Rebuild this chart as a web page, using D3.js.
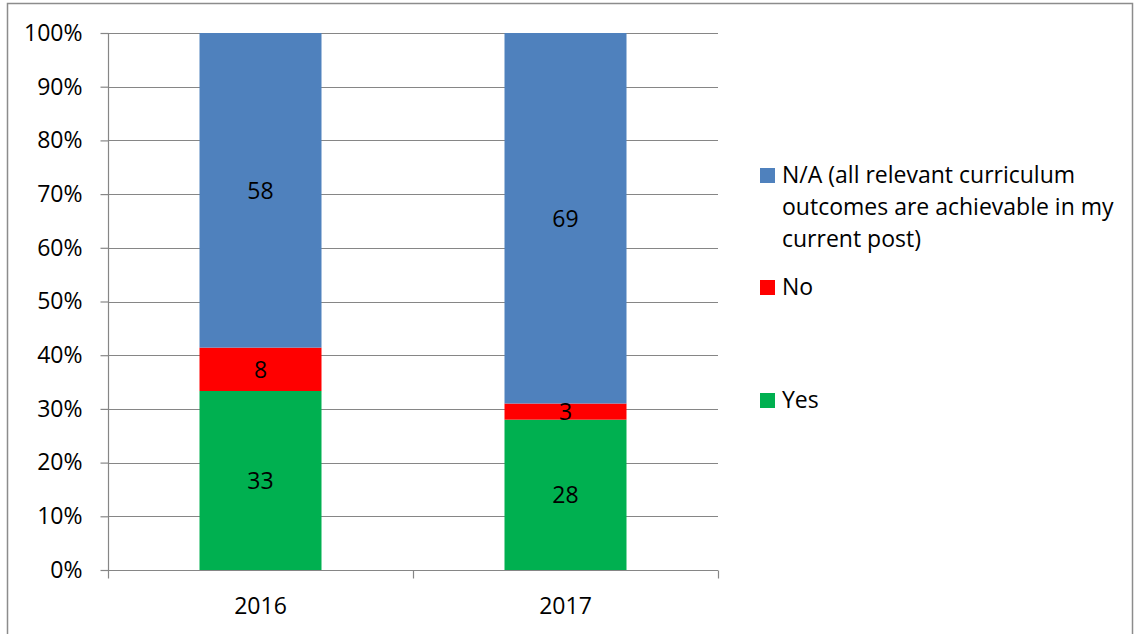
<!DOCTYPE html>
<html>
<head>
<meta charset="utf-8">
<script src="https://cdn.jsdelivr.net/npm/d3@7"></script>
<style>
  html, body { margin: 0; padding: 0; background: #fff; }
  svg text { font-family: "Open Sans", sans-serif; fill: #000; }
</style>
</head>
<body>
<svg id="chart" width="1134" height="634"></svg>
<script>
// Survey responses per year (counts)
const years = ["2016", "2017"];
const yesValues = [33, 28];
const noValues = [8, 3];
const naValues = [58, 69];
const seriesNames = ["Yes", "No", "N/A (all relevant curriculum outcomes are achievable in my current post)"];
const legendLines = [
  ["N/A (all relevant curriculum", "outcomes are achievable in my", "current post)"],
  ["No"],
  ["Yes"]
];
const yTicks = [0, 0.1, 0.2, 0.3, 0.4, 0.5, 0.6, 0.7, 0.8, 0.9, 1.0];
const colors = ["#00B050", "#FF0000", "#4F81BD"];

const rows = years.map((y, i) => ({ year: y, Yes: yesValues[i], No: noValues[i], NA: naValues[i] }));
const keys = ["Yes", "No", "NA"];
const FONT = 23;
const GREY = "#868686";

const svg = d3.select("#chart");

// outer frame
svg.append("rect")
  .attr("x", 7.5).attr("y", 3.5)
  .attr("width", 1125).attr("height", 640)
  .attr("fill", "none").attr("stroke", "#8c8c8c").attr("stroke-width", 1.5);

const plot = { left: 108, right: 718, top: 33, bottom: 570 };

const x = d3.scaleBand().domain(years)
  .range([plot.left, plot.right])
  .paddingInner(0.6).paddingOuter(0.3);
const y = d3.scaleLinear().domain([0, 1]).range([plot.bottom, plot.top]);

// gridlines
svg.append("g")
  .selectAll("line").data(yTicks.slice(1)).join("line")
  .attr("x1", plot.left).attr("x2", plot.right)
  .attr("y1", d => Math.round(y(d)) + 0.5).attr("y2", d => Math.round(y(d)) + 0.5)
  .attr("stroke", GREY).attr("stroke-width", 1.2);

// stacked 100% bars
const stack = d3.stack().keys(keys).offset(d3.stackOffsetExpand);
const layers = stack(rows);

const g = svg.append("g");
layers.forEach((layer, li) => {
  g.selectAll(null).data(layer).join("rect")
    .attr("x", d => x(d.data.year))
    .attr("width", x.bandwidth())
    .attr("y", d => y(d[1]))
    .attr("height", d => y(d[0]) - y(d[1]))
    .attr("fill", colors[li]);
});

// value labels
layers.forEach((layer, li) => {
  g.selectAll(null).data(layer).join("text")
    .attr("x", d => x(d.data.year) + x.bandwidth() / 2)
    .attr("y", d => (y(d[0]) + y(d[1])) / 2)
    .attr("dy", "0.36em")
    .attr("text-anchor", "middle")
    .attr("font-size", FONT)
    .text(d => d.data[keys[li]]);
});

// y axis
const yAxis = d3.axisLeft(y).tickValues(yTicks).tickFormat(d3.format(".0%")).tickSize(8).tickPadding(18);
const ya = svg.append("g").attr("transform", `translate(${plot.left + 0.5},0)`).call(yAxis);
ya.select(".domain").attr("stroke", GREY).attr("stroke-width", 1.2).attr("d", `M0,${plot.top}V${plot.bottom}`);
ya.selectAll(".tick line").attr("stroke", GREY).attr("stroke-width", 1.2);
ya.selectAll(".tick text").attr("font-size", FONT).attr("font-family", "'Open Sans', sans-serif");

// x axis
const xAxis = d3.axisBottom(x).tickSize(0).tickPadding(27);
const xa = svg.append("g").attr("transform", `translate(0,${plot.bottom + 0.5})`).call(xAxis);
xa.select(".domain").attr("stroke", GREY).attr("stroke-width", 1.2).attr("d", `M${plot.left},0H${plot.right}`);
xa.selectAll(".tick text").attr("font-size", FONT).attr("font-family", "'Open Sans', sans-serif");
// category boundary tick marks
const bounds = [plot.left, (plot.left + plot.right) / 2, plot.right];
xa.selectAll(".bound").data(bounds).join("line")
  .attr("x1", d => Math.round(d) + 0.5).attr("x2", d => Math.round(d) + 0.5)
  .attr("y1", 0).attr("y2", 8)
  .attr("stroke", GREY).attr("stroke-width", 1.2);

// legend
const legendY = [175, 287, 400];
const legendColors = [colors[2], colors[1], colors[0]];
const lg = svg.append("g");
legendLines.forEach((lines, i) => {
  lg.append("rect")
    .attr("x", 760).attr("y", legendY[i] - 7)
    .attr("width", 15).attr("height", 15)
    .attr("fill", legendColors[i]);
  const t = lg.append("text")
    .attr("x", 782).attr("y", legendY[i] + 8)
    .attr("font-size", FONT);
  lines.forEach((ln, j) => {
    t.append("tspan").attr("x", 782).attr("dy", j === 0 ? 0 : 32).text(ln);
  });
});
</script>
</body>
</html>
